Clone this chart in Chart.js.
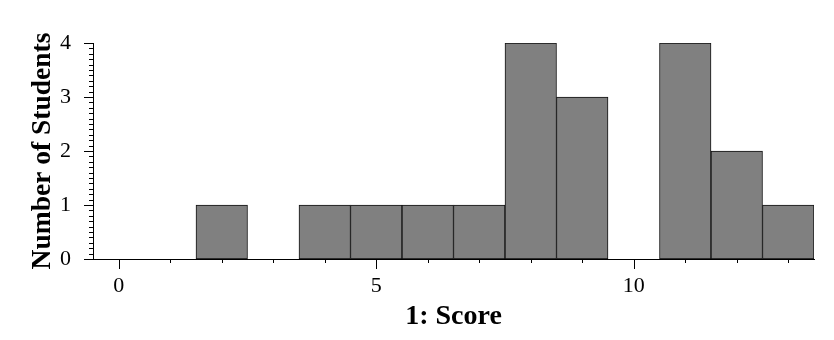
<!DOCTYPE html>
<html>
<head>
<meta charset="utf-8">
<script src="https://cdn.jsdelivr.net/npm/chart.js@4.4.1/dist/chart.umd.min.js"></script>
<style>
  html, body { margin: 0; padding: 0; background: #fff; }
  #wrap { width: 834px; height: 340px; position: relative; }
</style>
</head>
<body>
<div id="wrap"><canvas id="hist"></canvas></div>
<script>
const scores = [0, 1, 2, 3, 4, 5, 6, 7, 8, 9, 10, 11, 12, 13];
const students = [0, 0, 1, 0, 1, 1, 1, 1, 4, 3, 0, 4, 2, 1];
const xLabelTicks = [0, 5, 10];
const yLabelTicks = [0, 1, 2, 3, 4];

const serif = "'Liberation Serif', 'Times New Roman', serif";

// minor/major tick marks drawn from the scales' own ticks
const tickMarks = {
  id: "tickMarks",
  afterDraw(chart) {
    const { ctx } = chart;
    const x = chart.scales.x;
    const y = chart.scales.y;
    ctx.save();
    ctx.strokeStyle = "#000";
    ctx.lineWidth = 1;
    ctx.beginPath();
    x.ticks.forEach((t) => {
      const px = Math.round(x.getPixelForValue(t.value)) + 0.5;
      const len = xLabelTicks.includes(t.value) ? 10 : 4;
      ctx.moveTo(px, x.top);
      ctx.lineTo(px, x.top + len);
    });
    y.ticks.forEach((t) => {
      const py = Math.round(y.getPixelForValue(t.value)) + 0.5;
      const major = Math.abs(t.value - Math.round(t.value)) < 1e-6;
      ctx.moveTo(y.right, py);
      ctx.lineTo(y.right - (major ? 9 : 4), py);
    });
    ctx.stroke();
    ctx.restore();
  }
};

new Chart(document.getElementById("hist"), {
  type: "bar",
  data: {
    datasets: [
      {
        data: scores.map((s, i) => ({ x: s, y: students[i] })),
        backgroundColor: "#808080",
        borderColor: "#111",
        borderWidth: 1,
        borderSkipped: false,
        barPercentage: 1,
        categoryPercentage: 1
      }
    ]
  },
  options: {
    responsive: true,
    maintainAspectRatio: false,
    animation: false,
    layout: { padding: { left: 0, right: 20, top: 43, bottom: 0 } },
    plugins: {
      legend: { display: false },
      tooltip: { enabled: false }
    },
    scales: {
      x: {
        type: "linear",
        offset: false,
        min: -0.5,
        max: 13.5,
        grid: { display: false },
        border: { display: true, color: "#000", width: 1 },
        afterBuildTicks: (s) => { s.ticks = scores.map((v) => ({ value: v })); },
        afterFit: (s) => {
          s.height = 81;
          s.paddingLeft = 0;
          s.paddingRight = 0;
        },
        ticks: {
          autoSkip: false,
          maxRotation: 0,
          padding: 6,
          color: "#000",
          font: { family: serif, size: 22 },
          callback: (v) => (xLabelTicks.includes(v) ? String(v) : "")
        },
        title: {
          display: true,
          text: "1: Score",
          color: "#000",
          font: { family: serif, size: 28, weight: "bold" },
          padding: { top: 0, bottom: 6 }
        }
      },
      y: {
        min: 0,
        max: 4,
        grid: { display: false },
        border: { display: true, color: "#000", width: 1 },
        afterFit: (s) => {
          s.width = 93;
          s.paddingTop = 0;
          s.paddingBottom = 0;
        },
        ticks: {
          stepSize: 0.1,
          maxTicksLimit: 100,
          autoSkip: false,
          padding: 14,
          color: "#000",
          font: { family: serif, size: 22 },
          callback: (v) => {
            const r = Math.round(v);
            return Math.abs(v - r) < 1e-6 && yLabelTicks.includes(r) ? String(r) : "";
          }
        },
        title: {
          display: true,
          text: "Number of Students",
          color: "#000",
          font: { family: serif, size: 27.5, weight: "bold" },
          padding: { top: 26, bottom: 0 }
        }
      }
    }
  },
  plugins: [tickMarks]
});
</script>
</body>
</html>
